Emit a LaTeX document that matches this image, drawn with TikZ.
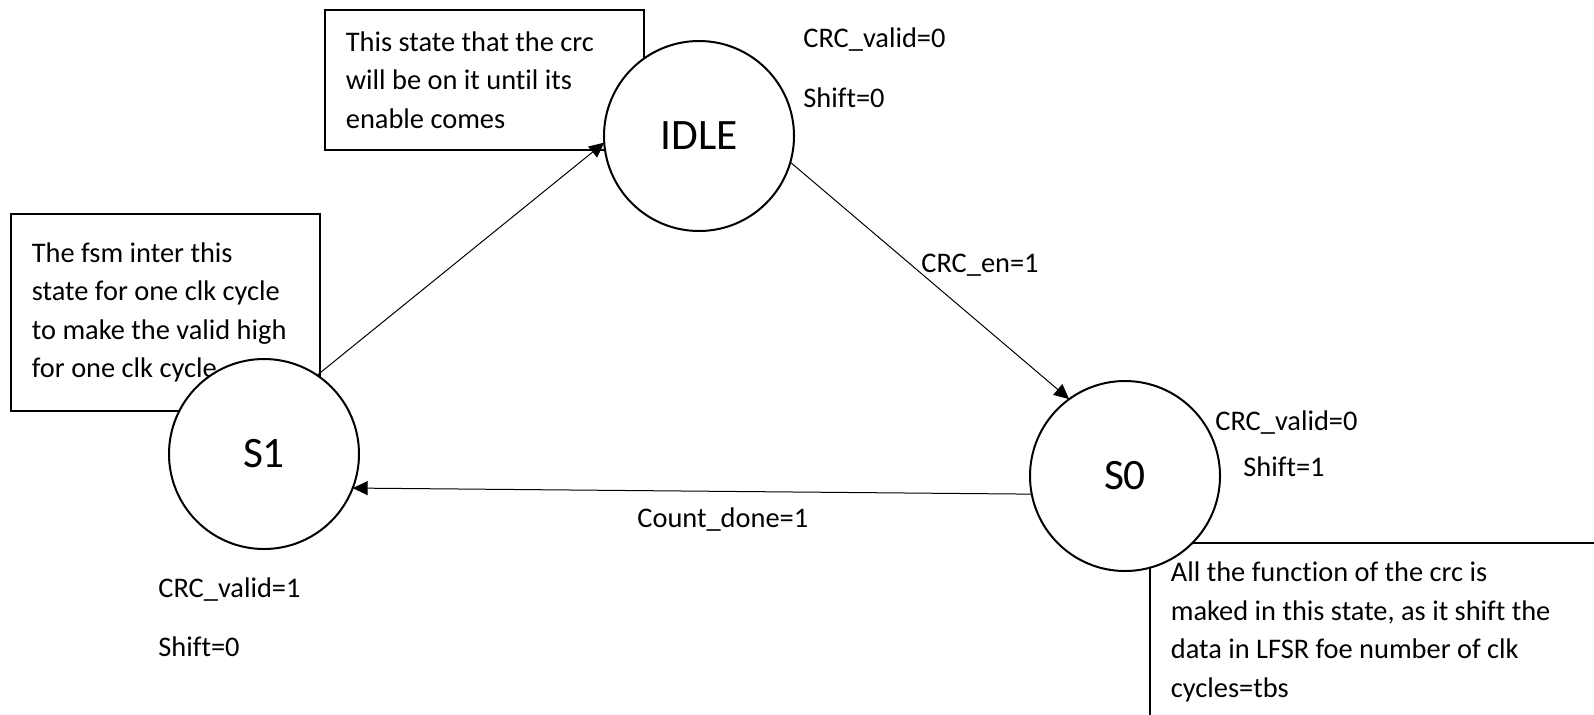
\documentclass[tikz,border=0pt]{standalone}
\usepackage{fontspec}
\setmainfont{Carlito}[Ligatures=CommonOff]
\usetikzlibrary{arrows.meta,positioning}

\begin{document}
\begin{tikzpicture}[
    x=0.5pt, y=-0.5pt,
    state/.style={draw, circle, line width=1pt, fill=white, minimum size=95pt, inner sep=0pt, outer sep=0pt, font=\fontsize{21.7}{26}\selectfont},
    note/.style={draw, line width=0.9pt, fill=white, anchor=north west, align=left, inner xsep=10.5pt, inner ysep=0pt, font=\fontsize{14.2}{19.25}\selectfont, execute at begin node={\spaceskip=0pt\xspaceskip=0pt}},
    lbl/.style={anchor=base west, inner sep=0pt, font=\fontsize{14.2}{19.25}\selectfont},
    trans/.style={->, line width=0.5pt},
    >={Triangle[length=7.5pt, width=7pt]}
  ]
  \clip (0,0) rectangle (1594,714);
  \fill[white] (0,0) rectangle (1594,714);

  % comment boxes, under the states
  \node[note, text width=138.5pt, minimum height=70pt] (idlenote) at (324,9) {This state that the crc\\will be on it until its\\enable comes};
  \node[note, text width=133.5pt, minimum height=98.5pt] (s1note) at (10,213) {The fsm inter this\\state for one clk cycle\\to make the valid high\\for one clk cycle};
  \node[note, text width=205pt, minimum height=89pt] (s0note) at (1149,542) {All the function of the crc is\\maked in this state, as it shift the\\data in LFSR foe number of clk\\cycles=tbs};

  % states
  \node[state] (idle) at (699,136) {IDLE};
  \node[state] (s1) at (264,454) {S1};
  \node[state] (s0) at (1125,476) {S0};

  % outputs of each state
  \node[lbl] (idlevalid) at (803,47) {CRC\_valid=0};
  \node[lbl] (idleshift) at (803,107) {Shift=0};
  \node[lbl] (s0valid) at (1215,430) {CRC\_valid=0};
  \node[lbl] (s0shift) at (1243,476) {Shift=1};
  \node[lbl] (s1valid) at (158,597) {CRC\_valid=1};
  \node[lbl] (s1shift) at (158,656) {Shift=0};

  % transitions
  \draw[trans] (s1.56) -- (idle.184);
  \draw[trans] (idle.344) -- (s0.126);
  \draw[trans] (s0.191) -- (s1.339);
  \node[lbl] (enlbl) at (921,272) {CRC\_en=1};
  \node[lbl] (donelbl) at (637,527) {Count\_done=1};
\end{tikzpicture}
\end{document}
